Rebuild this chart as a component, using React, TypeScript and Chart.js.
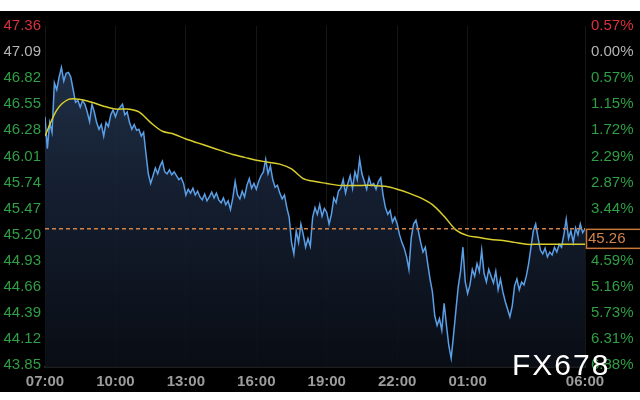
import { useEffect, useRef } from "react";
import { Chart, registerables } from "chart.js";

Chart.register(...registerables);

// x axis: one step = 6 minutes, starting 07:00
const timeTickIndex = [0, 30, 60, 90, 120, 150, 180, 230];
const timeTickLabels = ["07:00", "10:00", "13:00", "16:00", "19:00", "22:00", "01:00", "06:00"];

const priceTicks = [47.36, 47.09, 46.82, 46.55, 46.28, 46.01, 45.74, 45.47, 45.2, 44.93, 44.66, 44.39, 44.12, 43.85];
const pctTicks = ["0.57%", "0.00%", "0.57%", "1.15%", "1.72%", "2.29%", "2.87%", "3.44%", "4.02%", "4.59%", "5.16%", "5.73%", "6.31%", "6.88%"];

const prices = [
  46.42, 46.09, 46.36, 46.26, 46.77, 46.70, 46.83, 46.93, 46.79, 46.87,
  46.88, 46.83, 46.70, 46.57, 46.59, 46.52, 46.59, 46.55, 46.47, 46.37,
  46.55, 46.47, 46.36, 46.29, 46.34, 46.22, 46.36, 46.32, 46.44, 46.49,
  46.42, 46.49, 46.52, 46.55, 46.44, 46.47, 46.36, 46.29, 46.34, 46.28,
  46.29, 46.22, 46.26, 46.04, 45.83, 45.73, 45.81, 45.89, 45.83, 45.91,
  45.96, 45.85, 45.83, 45.87, 45.82, 45.85, 45.81, 45.77, 45.79, 45.73,
  45.61, 45.67, 45.63, 45.68, 45.61, 45.65, 45.59, 45.56, 45.62, 45.55,
  45.59, 45.64, 45.58, 45.63, 45.56, 45.53, 45.58, 45.51, 45.55, 45.46,
  45.58, 45.75, 45.61, 45.57, 45.65, 45.59, 45.71, 45.78, 45.68, 45.73,
  45.67, 45.75, 45.81, 45.85, 45.98, 45.83, 45.91, 45.77, 45.69, 45.71,
  45.63, 45.57, 45.61, 45.48, 45.38, 45.12, 45.00, 45.24, 45.12, 45.31,
  45.20, 45.07, 45.16, 45.08, 45.38, 45.48, 45.41, 45.51, 45.39, 45.47,
  45.43, 45.31, 45.41, 45.58, 45.53, 45.65, 45.68, 45.77, 45.63, 45.73,
  45.81, 45.68, 45.85, 45.77, 45.98, 45.83, 45.75, 45.67, 45.79, 45.71,
  45.73, 45.67, 45.75, 45.79, 45.61, 45.48, 45.41, 45.45, 45.33, 45.38,
  45.31, 45.20, 45.12, 45.06, 44.97, 44.84, 45.17, 45.31, 45.35, 45.24,
  45.12, 45.02, 45.07, 44.90, 44.74, 44.61, 44.36, 44.26, 44.33, 44.21,
  44.49, 44.26, 44.05, 43.92, 44.16, 44.41, 44.66, 44.82, 45.07, 44.71,
  44.59, 44.68, 44.84, 44.77, 44.90, 44.82, 45.04, 44.80, 44.71, 44.84,
  44.77, 44.70, 44.82, 44.63, 44.74, 44.61, 44.51, 44.43, 44.35, 44.46,
  44.67, 44.74, 44.63, 44.71, 44.68, 44.77, 44.90, 45.07, 45.24, 45.31,
  45.17, 45.04, 45.00, 45.06, 44.97, 45.02, 44.99, 45.07, 45.02, 45.10,
  45.07, 45.20, 45.36, 45.16, 45.24, 45.12, 45.27, 45.20, 45.31, 45.22, 45.26,
];

// moving average, one value every 30 minutes (5 steps)
const maStep = 5;
const maValues = [
  46.22, 46.49, 46.60, 46.60, 46.57, 46.53, 46.50, 46.50, 46.47, 46.36,
  46.27, 46.24, 46.19, 46.15, 46.11, 46.07, 46.03, 46.00, 45.97, 45.95,
  45.93, 45.88, 45.78, 45.75, 45.73, 45.71, 45.71, 45.71, 45.71, 45.70,
  45.67, 45.63, 45.58, 45.51, 45.39, 45.25, 45.19, 45.17, 45.15, 45.14,
  45.12, 45.10, 45.10, 45.10, 45.10, 45.10, 45.10,
];

const FONT = "'Liberation Sans', Arial, sans-serif";
const RED = "#d8323c";
const GRAY = "#b4b4b4";
const GREEN = "#2f9e44";
const ORANGE = "#d2834a";

const overlay = {
  id: "overlay",
  afterDatasetsDraw(chart: any) {
    const { ctx, chartArea, scales } = chart;
    const last = prices[prices.length - 1];
    const y = scales.y.getPixelForValue(last);
    ctx.save();
    ctx.strokeStyle = ORANGE;
    ctx.lineWidth = 1.5;
    ctx.setLineDash([4, 3]);
    ctx.beginPath();
    ctx.moveTo(chartArea.left, y);
    ctx.lineTo(chartArea.right, y);
    ctx.stroke();
    ctx.setLineDash([]);
    ctx.restore();
  },
  afterDraw(chart: any) {
    const { ctx, chartArea, scales, width } = chart;
    const last = prices[prices.length - 1];
    const y = scales.y.getPixelForValue(last);
    ctx.save();
    ctx.fillStyle = "#000";
    ctx.fillRect(chartArea.right + 1, y, width - chartArea.right, 20);
    ctx.strokeStyle = "#c8773a";
    ctx.lineWidth = 1.5;
    ctx.strokeRect(chartArea.right + 1.5, y + 0.5, width - chartArea.right, 19);
    ctx.fillStyle = ORANGE;
    ctx.font = `15px ${FONT}`;
    ctx.textBaseline = "middle";
    ctx.textAlign = "left";
    ctx.fillText(last.toFixed(2), chartArea.right + 3, y + 10.5);
    // watermark
    ctx.fillStyle = "#ffffff";
    ctx.font = `30px ${FONT}`;
    ctx.textBaseline = "alphabetic";
    (ctx as any).letterSpacing = "2px";
    ctx.fillText("FX678", 512, 364);
    ctx.restore();
  },
};

export default function App() {
  const ref = useRef<HTMLCanvasElement>(null);
  useEffect(() => {
    if (!ref.current) return;
    const sortedTicks = [...priceTicks].sort((a, b) => a - b);
    const tickColor = (ctx: any) => {
      const v = ctx.tick ? ctx.tick.value : null;
      if (v === priceTicks[0]) return RED;
      if (v === priceTicks[1]) return GRAY;
      return GREEN;
    };
    const chart = new Chart(ref.current, {
      type: "line",
      data: {
        datasets: [
          {
            data: prices.map((p, i) => ({ x: i, y: p })),
            borderColor: "#5a9ee6",
            borderWidth: 1.5,
            pointRadius: 0,
            tension: 0,
            fill: "start",
            backgroundColor: (c: any) => {
              const { chart: ch } = c;
              const area = ch.chartArea;
              if (!area) return "rgba(20,30,45,0.8)";
              const g = ch.ctx.createLinearGradient(0, area.top, 0, area.bottom);
              g.addColorStop(0, "rgba(38,57,84,0.9)");
              g.addColorStop(0.5, "rgba(22,33,52,0.9)");
              g.addColorStop(1, "rgba(10,14,22,0.9)");
              return g;
            },
            order: 2,
          },
          {
            data: maValues.map((v, i) => ({ x: i * maStep, y: v })),
            borderColor: "#d8cf2c",
            borderWidth: 1.5,
            pointRadius: 0,
            tension: 0.3,
            fill: false,
            order: 1,
          },
        ],
      },
      options: {
        animation: false,
        responsive: false,
        devicePixelRatio: 1,
        layout: { padding: 0 },
        plugins: { legend: { display: false }, tooltip: { enabled: false } },
        scales: {
          x: {
            type: "linear",
            min: 0,
            max: prices.length - 1,
            afterBuildTicks: (s: any) => {
              s.ticks = timeTickIndex.map((v) => ({ value: v }));
            },
            afterFit: (s: any) => {
              s.height = 25;
            },
            ticks: {
              autoSkip: false,
              maxRotation: 0,
              padding: 6,
              color: "#9c9c9c",
              font: { family: FONT, size: 15, weight: "bold" },
              callback: (v: any) => {
                const i = timeTickIndex.indexOf(Number(v));
                return i >= 0 ? timeTickLabels[i] : "";
              },
            },
            grid: { color: "#161616", drawTicks: false, lineWidth: 1 },
            border: { color: "#3a3a3a", width: 1.5 },
          },
          y: {
            type: "linear",
            position: "left",
            min: 43.8297,
            max: 47.36,
            afterBuildTicks: (s: any) => {
              s.ticks = sortedTicks.map((v) => ({ value: v }));
            },
            afterFit: (s: any) => {
              s.width = 45;
            },
            ticks: {
              padding: 4,
              color: tickColor,
              font: { family: FONT, size: 15 },
              callback: (v: any) => Number(v).toFixed(2),
            },
            grid: { display: false, drawTicks: false },
            border: { display: false },
          },
          y2: {
            type: "linear",
            position: "right",
            min: 43.8297,
            max: 47.36,
            afterBuildTicks: (s: any) => {
              s.ticks = sortedTicks.map((v) => ({ value: v }));
            },
            afterFit: (s: any) => {
              s.width = 55;
            },
            ticks: {
              padding: 6,
              color: tickColor,
              font: { family: FONT, size: 15 },
              callback: (v: any) => {
                const i = priceTicks.indexOf(Number(v));
                return i >= 0 ? pctTicks[i] : "";
              },
            },
            grid: { display: false, drawTicks: false },
            border: { display: false },
          },
        },
      },
      plugins: [overlay],
    });
    return () => chart.destroy();
  }, []);

  return (
    <div style={{ width: 640, height: 400, background: "#fff", position: "relative" }}>
      <style>{`body{margin:0}`}</style>
      <div style={{ position: "absolute", top: 11, left: 0, width: 640, height: 381, background: "#000" }}>
        <canvas ref={ref} width={640} height={381} style={{ display: "block" }} />
      </div>
    </div>
  );
}
